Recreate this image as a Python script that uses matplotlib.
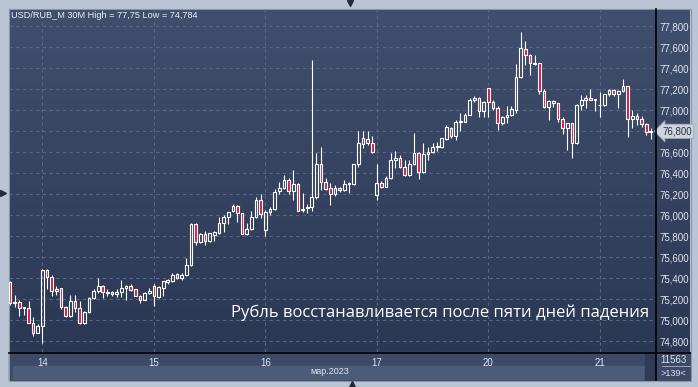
import numpy as np
import matplotlib.pyplot as plt
from matplotlib.colors import LinearSegmentedColormap
from matplotlib.patches import Rectangle
from matplotlib.lines import Line2D
import matplotlib.transforms as mtransforms

# USD/RUB_M, свечи 30M (13-21 марта 2023)
opens = [75.36, 75.16, 75.17, 75.12, 75.12, 74.97, 74.88, 74.95, 75.48, 75.41,
         75.28, 75.31, 75.13, 75.04, 75.18, 75.12, 74.97, 75.08, 75.21, 75.28,
         75.33, 75.26, 75.27, 75.25, 75.27, 75.31, 75.33, 75.30, 75.23, 75.19,
         75.26, 75.33, 75.22, 75.31, 75.36, 75.37, 75.44, 75.40, 75.43, 75.53,
         75.92, 75.75, 75.82, 75.76, 75.81, 75.83, 75.93, 75.98, 76.04, 76.09,
         76.02, 75.82, 75.87, 75.98, 76.15, 75.86, 76.03, 76.06, 76.23, 76.26,
         76.34, 76.23, 76.30, 76.06, 76.07, 76.08, 76.17, 76.49, 76.32, 76.26,
         76.20, 76.26, 76.24, 76.30, 76.30, 76.49, 76.68, 76.73, 76.69, 76.19,
         76.31, 76.27, 76.36, 76.53, 76.55, 76.46, 76.38, 76.49, 76.59, 76.41,
         76.58, 76.60, 76.65, 76.65, 76.73, 76.83, 76.76, 76.89, 76.89, 76.96,
         77.10, 77.12, 76.99, 77.21, 77.08, 77.02, 76.88, 76.94, 76.96, 77.00,
         77.32, 77.58, 77.53, 77.44, 77.45, 77.18, 77.03, 77.09, 77.07, 76.92,
         76.83, 76.88, 76.69, 77.05, 77.10, 77.12, 77.10, 77.05, 77.05, 77.155,
         77.19, 77.155, 77.18, 77.23, 76.92, 76.95, 76.92, 76.87, 76.79]
highs = [75.37, 75.24, 75.19, 75.13, 75.18, 75.03, 74.96, 75.49, 75.49, 75.43,
         75.33, 75.31, 75.14, 75.24, 75.24, 75.18, 75.09, 75.22, 75.30, 75.40,
         75.34, 75.30, 75.28, 75.30, 75.38, 75.34, 75.35, 75.30, 75.24, 75.27,
         75.31, 75.35, 75.33, 75.37, 75.39, 75.45, 75.45, 75.45, 75.59, 75.93,
         75.93, 75.83, 75.85, 75.83, 75.85, 75.98, 76.00, 76.03, 76.11, 76.10,
         76.02, 75.93, 76.04, 76.17, 76.20, 76.05, 76.08, 76.25, 76.32, 76.38,
         76.36, 76.43, 76.31, 76.21, 76.11, 77.48, 76.59, 76.65, 76.36, 76.31,
         76.29, 76.27, 76.34, 76.32, 76.49, 76.80, 76.80, 76.80, 76.76, 76.49,
         76.33, 76.37, 76.59, 76.61, 76.57, 76.53, 76.53, 76.78, 76.60, 76.69,
         76.65, 76.69, 76.70, 76.74, 76.86, 76.84, 76.91, 76.97, 76.97, 77.12,
         77.14, 77.13, 77.09, 77.21, 77.10, 77.04, 76.95, 77.04, 77.04, 77.44,
         77.75, 77.66, 77.54, 77.53, 77.45, 77.20, 77.10, 77.10, 77.07, 76.94,
         76.88, 76.88, 77.06, 77.15, 77.15, 77.20, 77.11, 77.17, 77.16, 77.20,
         77.20, 77.19, 77.30, 77.23, 77.00, 76.97, 76.95, 76.88, 76.83]
lows = [75.15, 75.13, 75.04, 75.05, 74.97, 74.85, 74.88, 74.784, 75.30, 75.23,
        75.24, 75.11, 75.03, 75.03, 75.08, 74.96, 74.96, 75.07, 75.20, 75.26,
        75.21, 75.23, 75.23, 75.22, 75.22, 75.19, 75.28, 75.23, 75.16, 75.19,
        75.25, 75.14, 75.21, 75.23, 75.35, 75.36, 75.39, 75.38, 75.42, 75.52,
        75.72, 75.74, 75.72, 75.75, 75.76, 75.82, 75.84, 75.92, 76.03, 75.94,
        75.82, 75.81, 75.86, 75.97, 75.97, 75.80, 76.00, 76.05, 76.20, 76.25,
        76.20, 76.15, 76.04, 76.03, 76.02, 76.04, 76.16, 76.24, 76.24, 76.10,
        76.18, 76.22, 76.23, 76.21, 76.29, 76.46, 76.64, 76.67, 76.59, 76.15,
        76.26, 76.27, 76.35, 76.45, 76.45, 76.37, 76.37, 76.48, 76.35, 76.40,
        76.53, 76.59, 76.61, 76.64, 76.72, 76.74, 76.72, 76.80, 76.89, 76.96,
        77.08, 76.94, 76.94, 76.94, 77.00, 76.81, 76.86, 76.88, 76.95, 76.97,
        77.31, 77.43, 77.34, 77.43, 77.16, 77.02, 76.91, 77.03, 76.89, 76.77,
        76.62, 76.55, 76.68, 77.00, 77.02, 77.10, 76.99, 76.94, 77.04, 77.14,
        77.14, 77.02, 77.17, 76.75, 76.83, 76.86, 76.84, 76.765, 76.73]
closes = [75.16, 75.17, 75.12, 75.125, 74.97, 74.88, 74.95, 75.48, 75.41, 75.28,
          75.30, 75.13, 75.04, 75.18, 75.12, 74.97, 75.08, 75.21, 75.28, 75.33,
          75.27, 75.27, 75.25, 75.27, 75.31, 75.33, 75.29, 75.23, 75.19, 75.26,
          75.28, 75.23, 75.32, 75.37, 75.38, 75.43, 75.40, 75.43, 75.53, 75.92,
          75.75, 75.82, 75.76, 75.83, 75.84, 75.93, 75.98, 76.03, 76.09, 76.02,
          75.82, 75.87, 75.98, 76.15, 76.01, 76.03, 76.06, 76.22, 76.26, 76.34,
          76.23, 76.30, 76.04, 76.05, 76.075, 76.17, 76.49, 76.32, 76.25, 76.20,
          76.26, 76.24, 76.30, 76.305, 76.49, 76.69, 76.74, 76.69, 76.60, 76.31,
          76.27, 76.36, 76.53, 76.55, 76.46, 76.38, 76.49, 76.59, 76.41, 76.58,
          76.60, 76.65, 76.66, 76.74, 76.84, 76.76, 76.89, 76.90, 76.96, 77.10,
          77.12, 76.99, 77.08, 77.08, 77.02, 76.88, 76.94, 76.96, 77.01, 77.32,
          77.59, 77.53, 77.45, 77.45, 77.18, 77.03, 77.09, 77.07, 76.92, 76.83,
          76.88, 76.69, 77.05, 77.10, 77.12, 77.10, 77.10, 77.05, 77.155, 77.19,
          77.155, 77.18, 77.23, 76.92, 76.95, 76.92, 76.87, 76.79, 76.80]

day_starts = [7, 31, 55, 79, 103, 127]
day_labels = ['14', '15', '16', '17', '20', '21']
y_ticks = [74.8, 75.0, 75.2, 75.4, 75.6, 75.8, 76.0, 76.2, 76.4, 76.6, 76.8,
           77.0, 77.2, 77.4, 77.6, 77.8]
header = 'USD/RUB_M 30M High = 77,75 Low = 74,784'
title = 'Рубль восстанавливается после пяти дней падения'
month_label = 'мар.2023'

RED = '#df163d'
WHITE = '#ffffff'
TXT = '#dfe6ef'
GRID = '#566688'


def fmt(v):
    return f'{v:.3f}'.replace('.', ',')


W, H = 698, 387
fig = plt.figure(figsize=(W / 100, H / 100), dpi=100)
fig.patch.set_facecolor('#b9c5d5')
plt.rcParams['font.family'] = ['Liberation Sans', 'DejaVu Sans']

# фоновый слой в пиксельных координатах
bg = fig.add_axes([0, 0, 1, 1], zorder=0)
bg.set_xlim(0, W)
bg.set_ylim(H, 0)
bg.axis('off')
cmap = LinearSegmentedColormap.from_list('bg', ['#404f6d', '#2b3854'])
grad = np.linspace(0, 1, 256).reshape(-1, 1)
bg.imshow(grad, cmap=cmap, extent=(9, 690, 352, 9), aspect='auto')
bg.add_patch(Rectangle((9, 352), 681, 28, color='#3c4a67'))
bg.add_patch(Rectangle((13, 366), 632, 12.5, color='#4c5c78'))
bg.add_patch(Rectangle((645, 352), 10, 28, color='#2f3b56'))
bg.add_patch(Rectangle((8.5, 8.5), 682, 372, fill=False, ec='#8894a8', lw=0.8))

# основной график
ax = fig.add_axes([9 / W, 1 - 352 / H, (655 - 9) / W, (352 - 9) / H], zorder=2)
ax.set_facecolor('none')
ax.set_xlim(-0.2, 138.9)
ax.set_ylim(74.698, 77.965)
for s in ax.spines.values():
    s.set_visible(False)

# подпись уровня последней цены закрыта плашкой, поэтому на оси её нет
last = closes[-1]
ax.set_yticks(y_ticks, ['' if abs(v - last) < 1e-9 else fmt(v) for v in y_ticks])
ax.yaxis.tick_right()
ax.tick_params(axis='y', length=0, pad=3, labelsize=7, labelcolor=TXT)
ax.set_xticks(day_starts, day_labels)
ax.tick_params(axis='x', length=0, pad=4, labelsize=7, labelcolor=TXT)
ax.grid(True, color=GRID, linestyle=(0, (3, 3)), linewidth=0.8)
ax.set_axisbelow(True)

bw = 0.58
for i, (o, h, l, c) in enumerate(zip(opens, highs, lows, closes)):
    top, bot = max(o, c), min(o, c)
    ax.vlines(i, top, h, color=WHITE, lw=0.8, zorder=3)
    ax.vlines(i, l, bot, color=WHITE, lw=0.8, zorder=3)
    face = RED if c < o else 'none'
    ax.add_patch(Rectangle((i - bw / 2, bot), bw, max(top - bot, 0.004),
                           fc=face, ec=WHITE, lw=0.8, zorder=4))

ax.text(0.9915, 0.115, title, transform=ax.transAxes, ha='right', va='center',
        fontsize=12, color='white', family=['Open Sans', 'DejaVu Sans'])

# метка последней цены
trans = mtransforms.blended_transform_factory(ax.transAxes, ax.transData)
ax.text(1.0 + 7 / 646, last, fmt(last),
        transform=trans, ha='left', va='center', fontsize=7, color='#2a3345',
        zorder=6, clip_on=False,
        bbox=dict(boxstyle='larrow,pad=0.22', fc='#cdd4de', ec='#9aa5b5', lw=0.6))

# передний слой: подписи, линии, маркеры
fg = fig.add_axes([0, 0, 1, 1], zorder=5)
fg.set_xlim(0, W)
fg.set_ylim(H, 0)
fg.axis('off')
fg.add_line(Line2D([9, 690], [352.5, 352.5], color='black', lw=1.2))
fg.add_line(Line2D([655.5, 655.5], [9, 380], color='black', lw=1.2))
fg.add_line(Line2D([662, 690], [366, 366], color='#aab4c4', lw=0.6))
fg.text(11, 15, header, ha='left', va='center', fontsize=6.6, color='#eef2f7')
fg.text(330, 372, month_label, ha='center', va='center', fontsize=6.5, color=TXT)
fg.text(673, 360, '11563', ha='center', va='center', fontsize=7, color=TXT)
fg.text(673, 373, '>139<', ha='center', va='center', fontsize=6.5, color=TXT)
fg.plot([350], [3], marker='v', ms=5, color='#232b3a')
fg.plot([352], [383.5], marker='^', ms=5, color='#232b3a')
fg.plot([3], [193], marker='>', ms=4, color='#232b3a')

fig.savefig('out.png', dpi=100, facecolor=fig.get_facecolor())
